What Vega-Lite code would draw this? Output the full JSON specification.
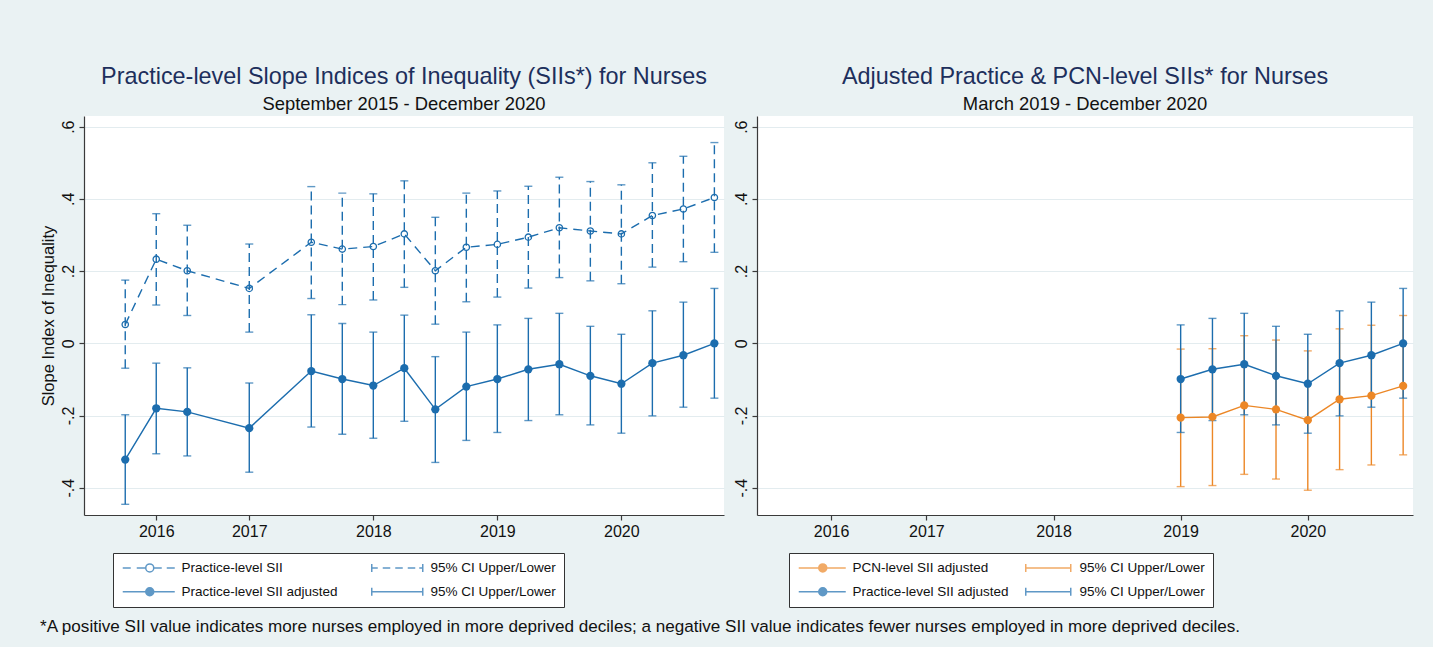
{
  "$schema": "https://vega.github.io/schema/vega-lite/v6.json",
  "background": "#EAF2F3",
  "padding": {"left": 40, "top": 65, "right": 20, "bottom": 12},
  "title": {
    "text": "*A positive SII value indicates more nurses employed in more deprived deciles; a negative SII value indicates fewer nurses employed in more deprived deciles.",
    "orient": "bottom", "anchor": "start", "frame": "bounds", "fontSize": 17.1, "color": "#111111", "offset": 10, "fontWeight": "normal"
  },
  "datasets": {
    "sii": [
      {"t": 0, "series": "Practice-level SII", "ci": "95% CI Upper/Lower", "est": 0.052, "lo": -0.069, "hi": 0.175},
      {"t": 1, "series": "Practice-level SII", "ci": "95% CI Upper/Lower", "est": 0.233, "lo": 0.106, "hi": 0.359},
      {"t": 2, "series": "Practice-level SII", "ci": "95% CI Upper/Lower", "est": 0.201, "lo": 0.077, "hi": 0.327},
      {"t": 4, "series": "Practice-level SII", "ci": "95% CI Upper/Lower", "est": 0.152, "lo": 0.031, "hi": 0.275},
      {"t": 6, "series": "Practice-level SII", "ci": "95% CI Upper/Lower", "est": 0.280, "lo": 0.124, "hi": 0.434},
      {"t": 7, "series": "Practice-level SII", "ci": "95% CI Upper/Lower", "est": 0.261, "lo": 0.107, "hi": 0.416},
      {"t": 8, "series": "Practice-level SII", "ci": "95% CI Upper/Lower", "est": 0.268, "lo": 0.120, "hi": 0.414},
      {"t": 9, "series": "Practice-level SII", "ci": "95% CI Upper/Lower", "est": 0.303, "lo": 0.155, "hi": 0.450},
      {"t": 10, "series": "Practice-level SII", "ci": "95% CI Upper/Lower", "est": 0.201, "lo": 0.053, "hi": 0.349},
      {"t": 11, "series": "Practice-level SII", "ci": "95% CI Upper/Lower", "est": 0.266, "lo": 0.115, "hi": 0.416},
      {"t": 12, "series": "Practice-level SII", "ci": "95% CI Upper/Lower", "est": 0.274, "lo": 0.128, "hi": 0.422},
      {"t": 13, "series": "Practice-level SII", "ci": "95% CI Upper/Lower", "est": 0.294, "lo": 0.153, "hi": 0.435},
      {"t": 14, "series": "Practice-level SII", "ci": "95% CI Upper/Lower", "est": 0.320, "lo": 0.182, "hi": 0.460},
      {"t": 15, "series": "Practice-level SII", "ci": "95% CI Upper/Lower", "est": 0.311, "lo": 0.173, "hi": 0.448},
      {"t": 16, "series": "Practice-level SII", "ci": "95% CI Upper/Lower", "est": 0.303, "lo": 0.165, "hi": 0.439},
      {"t": 17, "series": "Practice-level SII", "ci": "95% CI Upper/Lower", "est": 0.354, "lo": 0.211, "hi": 0.500},
      {"t": 18, "series": "Practice-level SII", "ci": "95% CI Upper/Lower", "est": 0.372, "lo": 0.226, "hi": 0.518},
      {"t": 19, "series": "Practice-level SII", "ci": "95% CI Upper/Lower", "est": 0.404, "lo": 0.252, "hi": 0.556},
      {"t": 0, "series": "Practice-level SII adjusted", "ci": "95% CI Upper/Lower (adjusted)", "est": -0.322, "lo": -0.446, "hi": -0.198},
      {"t": 1, "series": "Practice-level SII adjusted", "ci": "95% CI Upper/Lower (adjusted)", "est": -0.180, "lo": -0.306, "hi": -0.055},
      {"t": 2, "series": "Practice-level SII adjusted", "ci": "95% CI Upper/Lower (adjusted)", "est": -0.190, "lo": -0.312, "hi": -0.068},
      {"t": 4, "series": "Practice-level SII adjusted", "ci": "95% CI Upper/Lower (adjusted)", "est": -0.235, "lo": -0.357, "hi": -0.110},
      {"t": 6, "series": "Practice-level SII adjusted", "ci": "95% CI Upper/Lower (adjusted)", "est": -0.077, "lo": -0.232, "hi": 0.079},
      {"t": 7, "series": "Practice-level SII adjusted", "ci": "95% CI Upper/Lower (adjusted)", "est": -0.099, "lo": -0.252, "hi": 0.055},
      {"t": 8, "series": "Practice-level SII adjusted", "ci": "95% CI Upper/Lower (adjusted)", "est": -0.117, "lo": -0.263, "hi": 0.031},
      {"t": 9, "series": "Practice-level SII adjusted", "ci": "95% CI Upper/Lower (adjusted)", "est": -0.069, "lo": -0.216, "hi": 0.078},
      {"t": 10, "series": "Practice-level SII adjusted", "ci": "95% CI Upper/Lower (adjusted)", "est": -0.183, "lo": -0.330, "hi": -0.037},
      {"t": 11, "series": "Practice-level SII adjusted", "ci": "95% CI Upper/Lower (adjusted)", "est": -0.120, "lo": -0.269, "hi": 0.031},
      {"t": 12, "series": "Practice-level SII adjusted", "ci": "95% CI Upper/Lower (adjusted)", "est": -0.099, "lo": -0.247, "hi": 0.051},
      {"t": 13, "series": "Practice-level SII adjusted", "ci": "95% CI Upper/Lower (adjusted)", "est": -0.072, "lo": -0.214, "hi": 0.069},
      {"t": 14, "series": "Practice-level SII adjusted", "ci": "95% CI Upper/Lower (adjusted)", "est": -0.058, "lo": -0.198, "hi": 0.083},
      {"t": 15, "series": "Practice-level SII adjusted", "ci": "95% CI Upper/Lower (adjusted)", "est": -0.090, "lo": -0.226, "hi": 0.047},
      {"t": 16, "series": "Practice-level SII adjusted", "ci": "95% CI Upper/Lower (adjusted)", "est": -0.112, "lo": -0.249, "hi": 0.025},
      {"t": 17, "series": "Practice-level SII adjusted", "ci": "95% CI Upper/Lower (adjusted)", "est": -0.055, "lo": -0.201, "hi": 0.090},
      {"t": 18, "series": "Practice-level SII adjusted", "ci": "95% CI Upper/Lower (adjusted)", "est": -0.033, "lo": -0.177, "hi": 0.114},
      {"t": 19, "series": "Practice-level SII adjusted", "ci": "95% CI Upper/Lower (adjusted)", "est": 0.000, "lo": -0.152, "hi": 0.152},
      {"t": 12, "series": "PCN-level SII adjusted", "ci": "95% CI Upper/Lower", "est": -0.206, "lo": -0.397, "hi": -0.016},
      {"t": 13, "series": "PCN-level SII adjusted", "ci": "95% CI Upper/Lower", "est": -0.204, "lo": -0.394, "hi": -0.015},
      {"t": 14, "series": "PCN-level SII adjusted", "ci": "95% CI Upper/Lower", "est": -0.172, "lo": -0.363, "hi": 0.021},
      {"t": 15, "series": "PCN-level SII adjusted", "ci": "95% CI Upper/Lower", "est": -0.183, "lo": -0.376, "hi": 0.009},
      {"t": 16, "series": "PCN-level SII adjusted", "ci": "95% CI Upper/Lower", "est": -0.213, "lo": -0.407, "hi": -0.021},
      {"t": 17, "series": "PCN-level SII adjusted", "ci": "95% CI Upper/Lower", "est": -0.155, "lo": -0.350, "hi": 0.040},
      {"t": 18, "series": "PCN-level SII adjusted", "ci": "95% CI Upper/Lower", "est": -0.145, "lo": -0.337, "hi": 0.050},
      {"t": 19, "series": "PCN-level SII adjusted", "ci": "95% CI Upper/Lower", "est": -0.118, "lo": -0.309, "hi": 0.077}
    ]
  },
  "spacing": 9,
  "resolve": {
    "scale": {"color": "independent", "shape": "independent"},
    "legend": {"color": "independent", "shape": "independent"}
  },
  "hconcat": [
    {
      "width": 640,
      "height": 399,
      "title": {"text": "Practice-level Slope Indices of Inequality (SIIs*) for Nurses", "subtitle": "September 2015 - December 2020"},
      "data": {"name": "sii"},
      "transform": [{"filter": "datum.series != 'PCN-level SII adjusted'"}],
      "encoding": {
        "x": {"field": "t", "type": "quantitative", "scale": {"domain": [-1.33, 19.31], "nice": false, "zero": false},
          "axis": {"title": null, "values": [1, 4, 8, 12, 16], "labelExpr": "datum.value == 1 ? '2016' : datum.value == 4 ? '2017' : datum.value == 8 ? '2018' : datum.value == 12 ? '2019' : '2020'"}}
      },
      "layer": [
        {
          "transform": [{"filter": "datum.series == 'Practice-level SII'"}],
          "mark": {"type": "errorbar", "ticks": {"size": 8, "thickness": 1.4}, "rule": {"strokeDash": [9, 5], "strokeWidth": 1.4}},
          "encoding": {
            "y": {"field": "lo", "type": "quantitative", "scale": {"domain": [-0.4756, 0.6296], "nice": false, "zero": false},
              "axis": {"title": "Slope Index of Inequality", "values": [-0.4, -0.2, 0, 0.2, 0.4, 0.6], "labelExpr": "datum.value < -0.3 ? '-.4' : datum.value < -0.1 ? '-.2' : datum.value < 0.1 ? '0' : datum.value < 0.3 ? '.2' : datum.value < 0.5 ? '.4' : '.6'"}},
            "y2": {"field": "hi"},
            "color": {"field": "ci", "type": "nominal",
              "scale": {"domain": ["Practice-level SII", "Practice-level SII adjusted", "95% CI Upper/Lower", "95% CI Upper/Lower (adjusted)"], "range": ["#1C6DAE", "#1C6DAE", "#1C6DAE", "#1C6DAE"]}}
          }
        },
        {
          "transform": [{"filter": "datum.series == 'Practice-level SII adjusted'"}],
          "mark": {"type": "errorbar", "ticks": {"size": 8, "thickness": 1.4}, "rule": {"strokeWidth": 1.4}},
          "encoding": {
            "y": {"field": "lo", "type": "quantitative", "scale": {"domain": [-0.4756, 0.6296], "nice": false, "zero": false}, "axis": {"title": "Slope Index of Inequality"}},
            "y2": {"field": "hi"},
            "color": {"field": "ci", "type": "nominal",
              "scale": {"domain": ["Practice-level SII", "Practice-level SII adjusted", "95% CI Upper/Lower", "95% CI Upper/Lower (adjusted)"], "range": ["#1C6DAE", "#1C6DAE", "#1C6DAE", "#1C6DAE"]}}
          }
        },
        {
          "transform": [{"filter": "datum.series == 'Practice-level SII'"}],
          "mark": {"type": "line", "strokeDash": [9, 6], "strokeWidth": 1.4},
          "encoding": {
            "y": {"field": "est", "type": "quantitative", "scale": {"domain": [-0.4756, 0.6296], "nice": false, "zero": false}, "axis": {"title": "Slope Index of Inequality"}},
            "color": {"field": "series", "type": "nominal",
              "scale": {"domain": ["Practice-level SII", "Practice-level SII adjusted", "95% CI Upper/Lower", "95% CI Upper/Lower (adjusted)"], "range": ["#1C6DAE", "#1C6DAE", "#1C6DAE", "#1C6DAE"]}}
          }
        },
        {
          "transform": [{"filter": "datum.series == 'Practice-level SII adjusted'"}],
          "mark": {"type": "line", "strokeWidth": 1.4},
          "encoding": {
            "y": {"field": "est", "type": "quantitative", "scale": {"domain": [-0.4756, 0.6296], "nice": false, "zero": false}, "axis": {"title": "Slope Index of Inequality"}},
            "color": {"field": "series", "type": "nominal",
              "scale": {"domain": ["Practice-level SII", "Practice-level SII adjusted", "95% CI Upper/Lower", "95% CI Upper/Lower (adjusted)"], "range": ["#1C6DAE", "#1C6DAE", "#1C6DAE", "#1C6DAE"]}}
          }
        },
        {
          "transform": [{"filter": "datum.series == 'Practice-level SII'"}],
          "mark": {"type": "point", "filled": false, "size": 40, "strokeWidth": 1.3, "opacity": 1},
          "encoding": {
            "y": {"field": "est", "type": "quantitative", "scale": {"domain": [-0.4756, 0.6296], "nice": false, "zero": false}, "axis": {"title": "Slope Index of Inequality"}},
            "color": {"field": "series", "type": "nominal",
              "scale": {"domain": ["Practice-level SII", "Practice-level SII adjusted", "95% CI Upper/Lower", "95% CI Upper/Lower (adjusted)"], "range": ["#1C6DAE", "#1C6DAE", "#1C6DAE", "#1C6DAE"]}}
          }
        },
        {
          "transform": [{"filter": "datum.series == 'Practice-level SII adjusted'"}],
          "mark": {"type": "point", "filled": true, "size": 68, "opacity": 1},
          "encoding": {
            "y": {"field": "est", "type": "quantitative", "scale": {"domain": [-0.4756, 0.6296], "nice": false, "zero": false}, "axis": {"title": "Slope Index of Inequality"}},
            "color": {"field": "series", "type": "nominal",
              "scale": {"domain": ["Practice-level SII", "Practice-level SII adjusted", "95% CI Upper/Lower", "95% CI Upper/Lower (adjusted)"], "range": ["#1C6DAE", "#1C6DAE", "#1C6DAE", "#1C6DAE"]}}
          }
        },
        {
          "transform": [{"filter": "false"}],
          "mark": {"type": "point", "filled": false, "opacity": 1},
          "encoding": {
            "y": {"field": "est", "type": "quantitative", "scale": {"domain": [-0.4756, 0.6296], "nice": false, "zero": false}, "axis": {"title": "Slope Index of Inequality"}},
            "color": {"field": "series", "type": "nominal",
              "scale": {"domain": ["Practice-level SII", "Practice-level SII adjusted", "95% CI Upper/Lower", "95% CI Upper/Lower (adjusted)"], "range": ["#1C6DAE", "#1C6DAE", "#1C6DAE", "#1C6DAE"]},
              "legend": {"title": null, "orient": "none", "legendX": 29, "legendY": 437, "columns": 2, "columnPadding": 30, "rowPadding": 9, "padding": 8, "symbolSize": 100, "symbolStrokeWidth": 1.5, "symbolOpacity": 1, "symbolFillColor": "transparent", "labelOffset": 47, "labelFontSize": 13.5, "labelColor": "#111111", "labelLimit": 300, "strokeColor": "#333333", "fillColor": "white", "labelExpr": "replace(datum.label, ' (adjusted)', '')"}},
            "shape": {"field": "series", "type": "nominal",
              "scale": {"domain": ["Practice-level SII", "Practice-level SII adjusted", "95% CI Upper/Lower", "95% CI Upper/Lower (adjusted)"],
                "range": [
                  "M-1,0H0.6M1.8,0H3.6M5.2,0H6.8M7.8,0H9.4M5.2,0C5.2,0.442 4.842,0.8 4.4,0.8C3.958,0.8 3.6,0.442 3.6,0C3.6,-0.442 3.958,-0.8 4.4,-0.8C4.842,-0.8 5.2,-0.442 5.2,0ZM5.2,0C5.2,-0.442 4.842,-0.8 4.4,-0.8C3.958,-0.8 3.6,-0.442 3.6,0C3.6,0.442 3.958,0.8 4.4,0.8C4.842,0.8 5.2,0.442 5.2,0Z",
                  "M-1,0H9.4M5.2,0C5.2,0.442 4.842,0.8 4.4,0.8C3.958,0.8 3.6,0.442 3.6,0C3.6,-0.442 3.958,-0.8 4.4,-0.8C4.842,-0.8 5.2,-0.442 5.2,0ZM5,0C5,0.331 4.731,0.6 4.4,0.6C4.069,0.6 3.8,0.331 3.8,0C3.8,-0.331 4.069,-0.6 4.4,-0.6C4.731,-0.6 5,-0.331 5,0ZM4.8,0C4.8,0.221 4.621,0.4 4.4,0.4C4.179,0.4 4,0.221 4,0C4,-0.221 4.179,-0.4 4.4,-0.4C4.621,-0.4 4.8,-0.221 4.8,0ZM4.6,0C4.6,0.11 4.51,0.2 4.4,0.2C4.29,0.2 4.2,0.11 4.2,0C4.2,-0.11 4.29,-0.2 4.4,-0.2C4.51,-0.2 4.6,-0.11 4.6,0Z",
                  "M-1,-0.8V0.8M-1,0H0.2M1.2,0H2.7M3.7,0H5.2M6.2,0H7.7M8.5,0H9.2M9.2,-0.8V0.8",
                  "M-1,-0.8V0.8M-1,0H9.2M9.2,-0.8V0.8"
                ]},
              "legend": {"title": null, "orient": "none", "legendX": 29, "legendY": 437, "columns": 2, "columnPadding": 30, "rowPadding": 9, "padding": 8, "symbolSize": 100, "symbolStrokeWidth": 1.5, "symbolOpacity": 1, "symbolFillColor": "transparent", "labelOffset": 47, "labelFontSize": 13.5, "labelColor": "#111111", "labelLimit": 300, "strokeColor": "#333333", "fillColor": "white", "labelExpr": "replace(datum.label, ' (adjusted)', '')"}}
          }
        }
      ]
    },
    {
      "width": 656,
      "height": 399,
      "title": {"text": "Adjusted Practice & PCN-level SIIs* for Nurses", "subtitle": "March 2019 - December 2020"},
      "data": {"name": "sii"},
      "transform": [{"filter": "datum.series == 'PCN-level SII adjusted' || (datum.series == 'Practice-level SII adjusted' && datum.t >= 12)"}],
      "encoding": {
        "x": {"field": "t", "type": "quantitative", "scale": {"domain": [-1.33, 19.31], "nice": false, "zero": false},
          "axis": {"title": null, "values": [1, 4, 8, 12, 16], "labelExpr": "datum.value == 1 ? '2016' : datum.value == 4 ? '2017' : datum.value == 8 ? '2018' : datum.value == 12 ? '2019' : '2020'"}}
      },
      "layer": [
        {
          "transform": [{"filter": "datum.series == 'PCN-level SII adjusted'"}],
          "mark": {"type": "errorbar", "ticks": {"size": 8, "thickness": 1.4}, "rule": {"strokeWidth": 1.4}},
          "encoding": {
            "y": {"field": "lo", "type": "quantitative", "scale": {"domain": [-0.4756, 0.6296], "nice": false, "zero": false},
              "axis": {"title": null, "values": [-0.4, -0.2, 0, 0.2, 0.4, 0.6], "labelExpr": "datum.value < -0.3 ? '-.4' : datum.value < -0.1 ? '-.2' : datum.value < 0.1 ? '0' : datum.value < 0.3 ? '.2' : datum.value < 0.5 ? '.4' : '.6'"}},
            "y2": {"field": "hi"},
            "color": {"field": "ci", "type": "nominal",
              "scale": {"domain": ["PCN-level SII adjusted", "Practice-level SII adjusted", "95% CI Upper/Lower", "95% CI Upper/Lower (adjusted)"], "range": ["#EC8726", "#1C6DAE", "#EC8726", "#1C6DAE"]}}
          }
        },
        {
          "transform": [{"filter": "datum.series == 'Practice-level SII adjusted'"}],
          "mark": {"type": "errorbar", "ticks": {"size": 8, "thickness": 1.4}, "rule": {"strokeWidth": 1.4}},
          "encoding": {
            "y": {"field": "lo", "type": "quantitative", "scale": {"domain": [-0.4756, 0.6296], "nice": false, "zero": false}, "axis": {"title": null}},
            "y2": {"field": "hi"},
            "color": {"field": "ci", "type": "nominal",
              "scale": {"domain": ["PCN-level SII adjusted", "Practice-level SII adjusted", "95% CI Upper/Lower", "95% CI Upper/Lower (adjusted)"], "range": ["#EC8726", "#1C6DAE", "#EC8726", "#1C6DAE"]}}
          }
        },
        {
          "mark": {"type": "line", "strokeWidth": 1.4},
          "encoding": {
            "y": {"field": "est", "type": "quantitative", "scale": {"domain": [-0.4756, 0.6296], "nice": false, "zero": false}, "axis": {"title": null}},
            "color": {"field": "series", "type": "nominal",
              "scale": {"domain": ["PCN-level SII adjusted", "Practice-level SII adjusted", "95% CI Upper/Lower", "95% CI Upper/Lower (adjusted)"], "range": ["#EC8726", "#1C6DAE", "#EC8726", "#1C6DAE"]}}
          }
        },
        {
          "mark": {"type": "point", "filled": true, "size": 68, "opacity": 1},
          "encoding": {
            "y": {"field": "est", "type": "quantitative", "scale": {"domain": [-0.4756, 0.6296], "nice": false, "zero": false}, "axis": {"title": null}},
            "color": {"field": "series", "type": "nominal",
              "scale": {"domain": ["PCN-level SII adjusted", "Practice-level SII adjusted", "95% CI Upper/Lower", "95% CI Upper/Lower (adjusted)"], "range": ["#EC8726", "#1C6DAE", "#EC8726", "#1C6DAE"]}}
          }
        },
        {
          "transform": [{"filter": "false"}],
          "mark": {"type": "point", "filled": false, "opacity": 1},
          "encoding": {
            "y": {"field": "est", "type": "quantitative", "scale": {"domain": [-0.4756, 0.6296], "nice": false, "zero": false}, "axis": {"title": null}},
            "color": {"field": "series", "type": "nominal",
              "scale": {"domain": ["PCN-level SII adjusted", "Practice-level SII adjusted", "95% CI Upper/Lower", "95% CI Upper/Lower (adjusted)"], "range": ["#EC8726", "#1C6DAE", "#EC8726", "#1C6DAE"]},
              "legend": {"title": null, "orient": "none", "legendX": 32, "legendY": 437, "columns": 2, "columnPadding": 13, "rowPadding": 9, "padding": 8, "symbolSize": 100, "symbolStrokeWidth": 1.5, "symbolOpacity": 1, "symbolFillColor": "transparent", "labelOffset": 42, "labelFontSize": 13.5, "labelColor": "#111111", "labelLimit": 300, "strokeColor": "#333333", "fillColor": "white", "labelExpr": "replace(datum.label, ' (adjusted)', '')"}},
            "shape": {"field": "series", "type": "nominal",
              "scale": {"domain": ["PCN-level SII adjusted", "Practice-level SII adjusted", "95% CI Upper/Lower", "95% CI Upper/Lower (adjusted)"],
                "range": [
                  "M-1,0H8.4M4.6,0C4.6,0.442 4.242,0.8 3.8,0.8C3.358,0.8 3,0.442 3,0C3,-0.442 3.358,-0.8 3.8,-0.8C4.242,-0.8 4.6,-0.442 4.6,0ZM4.4,0C4.4,0.331 4.131,0.6 3.8,0.6C3.469,0.6 3.2,0.331 3.2,0C3.2,-0.331 3.469,-0.6 3.8,-0.6C4.131,-0.6 4.4,-0.331 4.4,0ZM4.2,0C4.2,0.221 4.021,0.4 3.8,0.4C3.579,0.4 3.4,0.221 3.4,0C3.4,-0.221 3.579,-0.4 3.8,-0.4C4.021,-0.4 4.2,-0.221 4.2,0ZM4,0C4,0.11 3.91,0.2 3.8,0.2C3.69,0.2 3.6,0.11 3.6,0C3.6,-0.11 3.69,-0.2 3.8,-0.2C3.91,-0.2 4,-0.11 4,0Z",
                  "M-1,0H8.4M4.6,0C4.6,0.442 4.242,0.8 3.8,0.8C3.358,0.8 3,0.442 3,0C3,-0.442 3.358,-0.8 3.8,-0.8C4.242,-0.8 4.6,-0.442 4.6,0ZM4.4,0C4.4,0.331 4.131,0.6 3.8,0.6C3.469,0.6 3.2,0.331 3.2,0C3.2,-0.331 3.469,-0.6 3.8,-0.6C4.131,-0.6 4.4,-0.331 4.4,0ZM4.2,0C4.2,0.221 4.021,0.4 3.8,0.4C3.579,0.4 3.4,0.221 3.4,0C3.4,-0.221 3.579,-0.4 3.8,-0.4C4.021,-0.4 4.2,-0.221 4.2,0ZM4,0C4,0.11 3.91,0.2 3.8,0.2C3.69,0.2 3.6,0.11 3.6,0C3.6,-0.11 3.69,-0.2 3.8,-0.2C3.91,-0.2 4,-0.11 4,0Z",
                  "M-1,-0.8V0.8M-1,0H8M8,-0.8V0.8",
                  "M-1,-0.8V0.8M-1,0H8M8,-0.8V0.8"
                ]},
              "legend": {"title": null, "orient": "none", "legendX": 32, "legendY": 437, "columns": 2, "columnPadding": 13, "rowPadding": 9, "padding": 8, "symbolSize": 100, "symbolStrokeWidth": 1.5, "symbolOpacity": 1, "symbolFillColor": "transparent", "labelOffset": 42, "labelFontSize": 13.5, "labelColor": "#111111", "labelLimit": 300, "strokeColor": "#333333", "fillColor": "white", "labelExpr": "replace(datum.label, ' (adjusted)', '')"}}
          }
        }
      ]
    }
  ],
  "config": {
    "font": "Liberation Sans",
    "view": {"stroke": null, "fill": "white"},
    "axis": {"domainColor": "#3a3a3a", "domainWidth": 1.2, "tickColor": "#3a3a3a", "tickWidth": 1.2, "tickSize": 5, "labelFont": "Liberation Sans", "labelFontSize": 16, "labelColor": "#111111", "titleFont": "Liberation Sans", "titleFontSize": 16.5, "titleFontWeight": "normal", "titleColor": "#111111"},
    "axisX": {"grid": false, "labelPadding": 3},
    "axisY": {"grid": true, "gridColor": "#E3ECEF", "gridWidth": 1, "labelAngle": -90, "labelPadding": 3, "titlePadding": 4},
    "title": {"font": "Liberation Sans", "fontWeight": "normal", "fontSize": 23.4, "color": "#1D2F5C", "subtitleFont": "Liberation Sans", "subtitleFontSize": 18.4, "subtitleColor": "#111111", "subtitlePadding": 5, "frame": "group", "anchor": "middle", "offset": 2}
  }
}
